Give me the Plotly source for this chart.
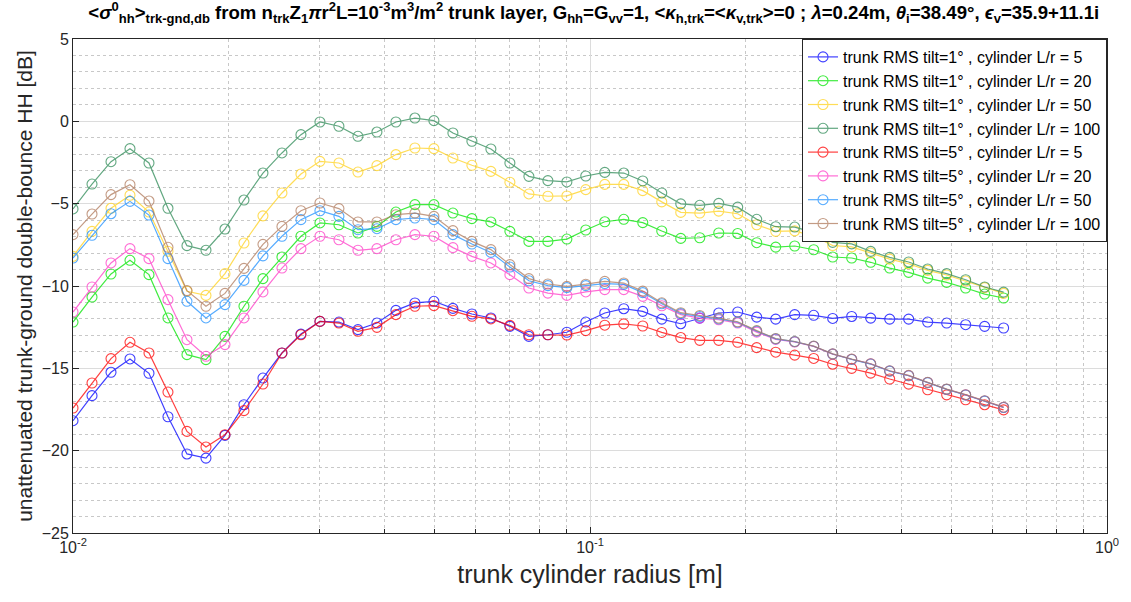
import plotly.graph_objects as go

# trunk cylinder radius [m] (log-spaced sampling, 0.01 .. 0.63)
radius = [0.010000, 0.010883, 0.011844, 0.012889, 0.014027, 0.015265, 0.016613, 0.018080,
          0.019676, 0.021413, 0.023303, 0.025360, 0.027599, 0.030036, 0.032687, 0.035573,
          0.038713, 0.042131, 0.045850, 0.049898, 0.054303, 0.059097, 0.064314, 0.069992,
          0.076171, 0.082895, 0.090213, 0.098138, 0.10680, 0.11623, 0.12649, 0.13766,
          0.14981, 0.16304, 0.17743, 0.19307, 0.21012, 0.22867, 0.24885, 0.27082,
          0.29473, 0.32075, 0.34907, 0.37988, 0.41342, 0.44991, 0.48963, 0.53285,
          0.57989, 0.63096]

tilt1_Lr5 = [-18.18, -16.66, -15.24, -14.43, -15.30, -17.94, -20.20, -20.45, -19.07, -17.21,
             -15.59, -14.07, -12.92, -12.15, -12.19, -12.65, -12.25, -11.48, -11.03, -10.93,
             -11.36, -11.70, -11.94, -12.45, -13.06, -12.96, -12.81, -12.19, -11.64, -11.38,
             -11.54, -12.01, -12.29, -11.95, -11.64, -11.58, -11.89, -12.01, -11.74, -11.78,
             -11.97, -11.85, -11.95, -12.01, -12.01, -12.19, -12.25, -12.35, -12.45, -12.55]

tilt1_Lr20 = [-12.19, -10.67, -9.27, -8.44, -9.31, -11.94, -14.17, -14.47, -13.06, -11.23,
              -9.55, -8.24, -6.98, -6.17, -6.28, -6.78, -6.38, -5.51, -5.06, -5.06,
              -5.57, -5.91, -6.11, -6.68, -7.29, -7.29, -7.15, -6.60, -6.10, -5.95,
              -6.15, -6.66, -7.11, -7.07, -6.78, -6.81, -7.37, -7.64, -7.57, -7.80,
              -8.24, -8.30, -8.56, -8.91, -9.17, -9.52, -9.78, -10.12, -10.49, -10.73]

tilt1_Lr50 = [-8.20, -6.68, -5.28, -4.49, -5.51, -7.89, -10.32, -10.57, -9.25, -7.39,
              -5.74, -4.35, -3.20, -2.43, -2.53, -3.08, -2.69, -2.02, -1.62, -1.66,
              -2.23, -2.67, -3.04, -3.70, -4.41, -4.55, -4.53, -4.15, -3.83, -3.83,
              -4.21, -4.89, -5.53, -5.57, -5.45, -5.61, -6.28, -6.68, -6.65, -6.98,
              -7.54, -7.62, -8.00, -8.37, -8.65, -9.05, -9.33, -9.70, -10.10, -10.45]

tilt1_Lr100 = [-5.32, -3.81, -2.45, -1.66, -2.53, -5.28, -7.55, -7.83, -6.54, -4.78,
               -3.14, -1.92, -0.81, -0.04, -0.30, -0.91, -0.65, -0.04, 0.20, 0.04,
               -0.71, -1.21, -1.68, -2.53, -3.34, -3.60, -3.68, -3.32, -3.10, -3.14,
               -3.62, -4.35, -5.01, -5.10, -4.98, -5.21, -5.95, -6.40, -6.42, -6.74,
               -7.35, -7.44, -7.90, -8.26, -8.54, -8.97, -9.25, -9.62, -10.06, -10.37]

tilt5_Lr5 = [-17.41, -15.89, -14.41, -13.42, -14.07, -16.44, -18.83, -19.78, -19.03, -17.57,
             -15.95, -14.07, -12.96, -12.15, -12.25, -12.75, -12.51, -11.74, -11.23, -11.19,
             -11.50, -11.84, -12.00, -12.39, -12.96, -12.96, -12.98, -12.71, -12.38, -12.30,
             -12.43, -12.82, -13.13, -13.30, -13.30, -13.42, -13.74, -14.02, -14.20, -14.40,
             -14.75, -15.00, -15.29, -15.65, -15.96, -16.30, -16.61, -16.91, -17.21, -17.52]

tilt5_Lr20 = [-11.58, -10.06, -8.60, -7.73, -8.34, -10.83, -13.26, -14.27, -13.56, -11.94,
              -10.36, -8.91, -7.73, -6.98, -7.19, -7.83, -7.73, -7.19, -6.88, -6.98,
              -7.67, -8.20, -8.60, -9.31, -10.12, -10.43, -10.57, -10.36, -10.22, -10.22,
              -10.63, -11.20, -11.74, -11.95, -12.05, -12.25, -12.80, -13.24, -13.40, -13.67,
              -14.14, -14.45, -14.73, -15.16, -15.44, -15.86, -16.27, -16.61, -16.98, -17.37]

tilt5_Lr50 = [-8.30, -6.92, -5.61, -4.86, -5.69, -8.34, -10.93, -11.94, -11.13, -9.66,
              -8.17, -6.98, -5.97, -5.43, -5.77, -6.58, -6.52, -5.97, -5.87, -5.97,
              -6.88, -7.45, -7.96, -8.85, -9.68, -9.98, -10.10, -9.98, -9.85, -9.90,
              -10.40, -11.08, -11.68, -11.85, -12.00, -12.20, -12.74, -13.21, -13.38, -13.66,
              -14.13, -14.46, -14.74, -15.17, -15.45, -15.87, -16.28, -16.62, -16.99, -17.38]

tilt5_Lr100 = [-6.88, -5.63, -4.45, -3.85, -4.84, -7.65, -10.28, -11.23, -10.45, -8.93,
               -7.47, -6.38, -5.43, -4.96, -5.30, -6.11, -6.11, -5.67, -5.57, -5.77,
               -6.64, -7.29, -7.79, -8.70, -9.55, -9.88, -10.02, -9.89, -9.72, -9.82,
               -10.31, -11.02, -11.62, -11.79, -11.95, -12.17, -12.71, -13.19, -13.37, -13.65,
               -14.12, -14.44, -14.72, -15.15, -15.43, -15.85, -16.26, -16.60, -16.97, -17.36]

series_names = [
    "trunk RMS tilt=1° , cylinder L/r = 5",
    "trunk RMS tilt=1° , cylinder L/r = 20",
    "trunk RMS tilt=1° , cylinder L/r = 50",
    "trunk RMS tilt=1° , cylinder L/r = 100",
    "trunk RMS tilt=5° , cylinder L/r = 5",
    "trunk RMS tilt=5° , cylinder L/r = 20",
    "trunk RMS tilt=5° , cylinder L/r = 50",
    "trunk RMS tilt=5° , cylinder L/r = 100",
]
series_values = [tilt1_Lr5, tilt1_Lr20, tilt1_Lr50, tilt1_Lr100,
                 tilt5_Lr5, tilt5_Lr20, tilt5_Lr50, tilt5_Lr100]
colors = ["#0000FF", "#00E600", "#FFD21E", "#2E8B57",
          "#FF0000", "#FF3CC8", "#1E90FF", "#B07A5C"]

x_ticks = [0.01, 0.1, 1]
x_ticktext = ["10<sup>-2</sup>", "10<sup>-1</sup>", "10<sup>0</sup>"]
y_ticks = [5, 0, -5, -10, -15, -20, -25]

fig = go.Figure()
for name, vals, col in zip(series_names, series_values, colors):
    fig.add_trace(go.Scatter(
        x=radius, y=vals, name=name, mode="lines+markers",
        line=dict(color=col, width=1.2),
        marker=dict(symbol="circle-open", size=10, color=col, line=dict(width=1.1)),
        opacity=0.75,
    ))

title_txt = ("<b>&lt;<i>σ</i><sup>0</sup><sub>hh</sub>&gt;<sub>trk-gnd,db</sub> from n<sub>trk</sub>Z<sub>1</sub>"
             "<i>π</i>r<sup>2</sup>L=10<sup>-3</sup>m<sup>3</sup>/m<sup>2</sup> trunk layer, "
             "G<sub>hh</sub>=G<sub>vv</sub>=1, &lt;<i>κ</i><sub>h,trk</sub>=&lt;<i>κ</i><sub>v,trk</sub>&gt;=0 ; "
             "<i>λ</i>=0.24m, <i>θ</i><sub>i</sub>=38.49°, <i>ϵ</i><sub>v</sub>=35.9+11.1i</b>")

fig.update_layout(
    width=1131, height=602,
    margin=dict(l=73, r=21, t=39, b=69),
    paper_bgcolor="white", plot_bgcolor="white",
    font=dict(family="Liberation Sans, Arial, sans-serif", color="#262626", size=16),
    title=dict(text=title_txt, x=0.525, xanchor="center", y=0.99, yanchor="top",
               font=dict(family="Liberation Sans Narrow, Arial Narrow, Liberation Sans", size=18.6, color="#000000")),
    legend=dict(x=1, xanchor="right", y=1, yanchor="top",
                bgcolor="white", bordercolor="#262626", borderwidth=1,
                font=dict(size=16, color="#000000"), itemwidth=30,
                tracegroupgap=0),
    showlegend=True,
)
fig.update_xaxes(
    type="log", range=[-2, 0],
    tickvals=x_ticks, ticktext=x_ticktext,
    ticks="inside", ticklen=6, tickcolor="#262626",
    showline=True, linecolor="#262626", linewidth=1, mirror=True,
    showgrid=True, gridcolor="#DCDCDC", gridwidth=1,
    minor=dict(dtick="D1", showgrid=True, gridcolor="#C8C8C8", griddash="dot",
               ticks="inside", ticklen=4, tickcolor="#262626"),
    title=dict(text="trunk cylinder radius [m]", font=dict(size=25), standoff=10),
    tickfont=dict(size=16),
    zeroline=False,
)
fig.update_yaxes(
    range=[-25, 5], tickvals=y_ticks,
    ticks="inside", ticklen=6, tickcolor="#262626",
    showline=True, linecolor="#262626", linewidth=1, mirror=True,
    showgrid=True, gridcolor="#DCDCDC", gridwidth=1,
    minor=dict(dtick=1, showgrid=True, gridcolor="#C8C8C8", griddash="dot", ticks=""),
    title=dict(text="unattenuated trunk-ground double-bounce HH [dB]", font=dict(size=21), standoff=3),
    tickfont=dict(size=16),
    zeroline=False,
)

fig.write_html("out.html")
